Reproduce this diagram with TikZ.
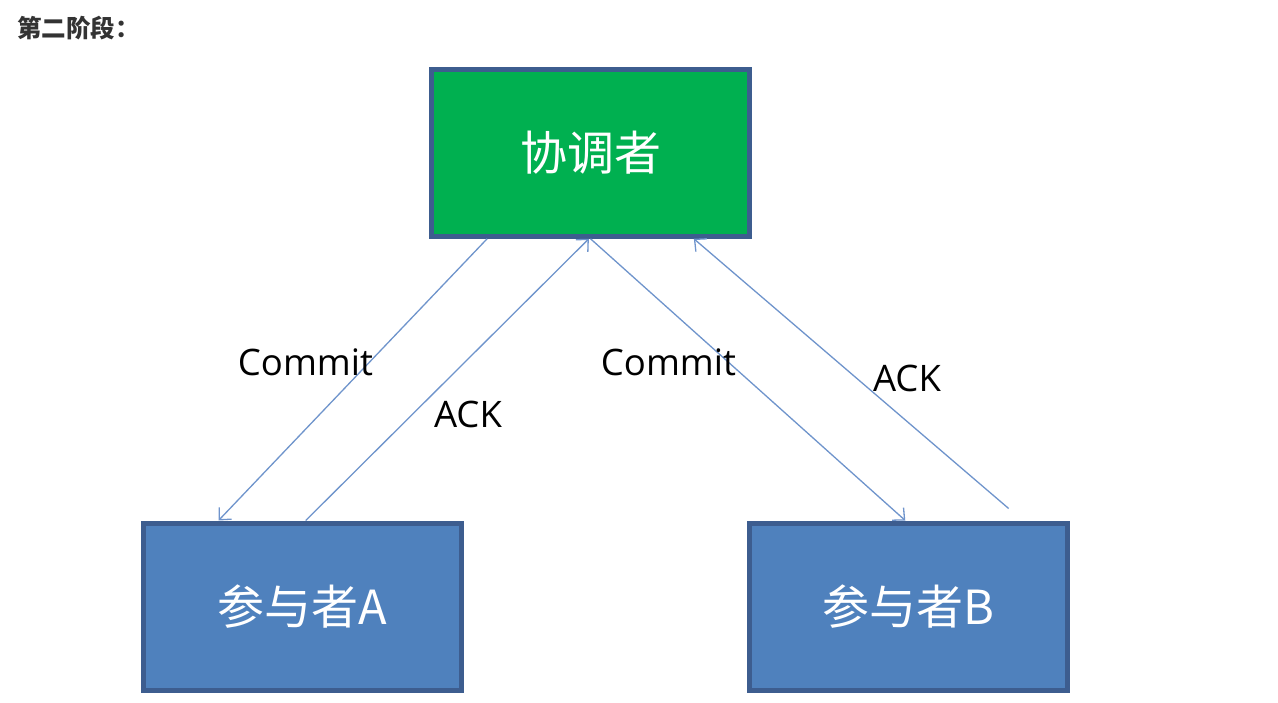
\documentclass[tikz,border=0pt]{standalone}
\usepackage{fontspec}
\usetikzlibrary{arrows.meta,calc}
\newfontfamily\cjk{Noto Sans CJK SC}
\newfontfamily\latinfont{Open Sans}
\definecolor{edgeblue}{HTML}{3D5D8F}
\definecolor{greenfill}{HTML}{00B050}
\definecolor{bluefill}{HTML}{4F81BD}
\definecolor{arrowblue}{HTML}{6F94CC}
\definecolor{titlegray}{HTML}{333333}
\tikzset{
  boxnode/.style={draw=edgeblue, line width=5pt, minimum width=318pt, minimum height=167pt, inner sep=0pt, text=white, font=\cjk\fontsize{47}{50}\selectfont},
  msg/.style={draw=arrowblue, line width=1.3pt, -{Straight Barb[length=9pt,width=17pt,line width=1.3pt]}},
  lbl/.style={font=\latinfont\fontsize{36.5}{40}\selectfont, text=black, inner sep=0pt}
}
\begin{document}
\begin{tikzpicture}[x=1pt,y=-1pt]
\useasboundingbox[fill=white] (0,0) rectangle (1278,702);
\node[anchor=west, inner sep=0pt, text=titlegray, font=\cjk\bfseries\fontsize{24.5}{26}\selectfont] (title) at (17,28) {第二阶段：};
\node[boxnode, fill=greenfill] (c) at (590.5,152.75) {协调者};
\node[boxnode, fill=bluefill] (a) at (302.5,606.5) {参与者A};
\node[boxnode, fill=bluefill] (b) at (908.5,606.5) {参与者B};
\coordinate (c1) at ($(c.south west)!0.18!(c.south east)$);
\coordinate (c2) at ($(c.south west)!0.495!(c.south east)$);
\coordinate (c3) at ($(c.south west)!0.50!(c.south east)$);
\coordinate (c4) at ($(c.south west)!0.82!(c.south east)$);
\coordinate (a1) at ($(a.north west)!0.24!(a.north east)$);
\coordinate (a2) at ($(a.north west)!0.51!(a.north east)$);
\coordinate (b1) at ($(b.north west)!0.49!(b.north east)$);
\coordinate (b2) at ($(b.north west)!0.81!(b.north east)+(0,-12)$);
\draw[msg] (c1) -- (a1);
\draw[msg] (a2) -- (c2);
\draw[msg] (c3) -- (b1);
\draw[msg] (b2) -- (c4);
\node[lbl] (l1) at (305.5,362) {Commit};
\node[lbl] (l2) at (468,414) {ACK};
\node[lbl] (l3) at (668.5,362) {Commit};
\node[lbl] (l4) at (907,378) {ACK};
\end{tikzpicture}
\end{document}
